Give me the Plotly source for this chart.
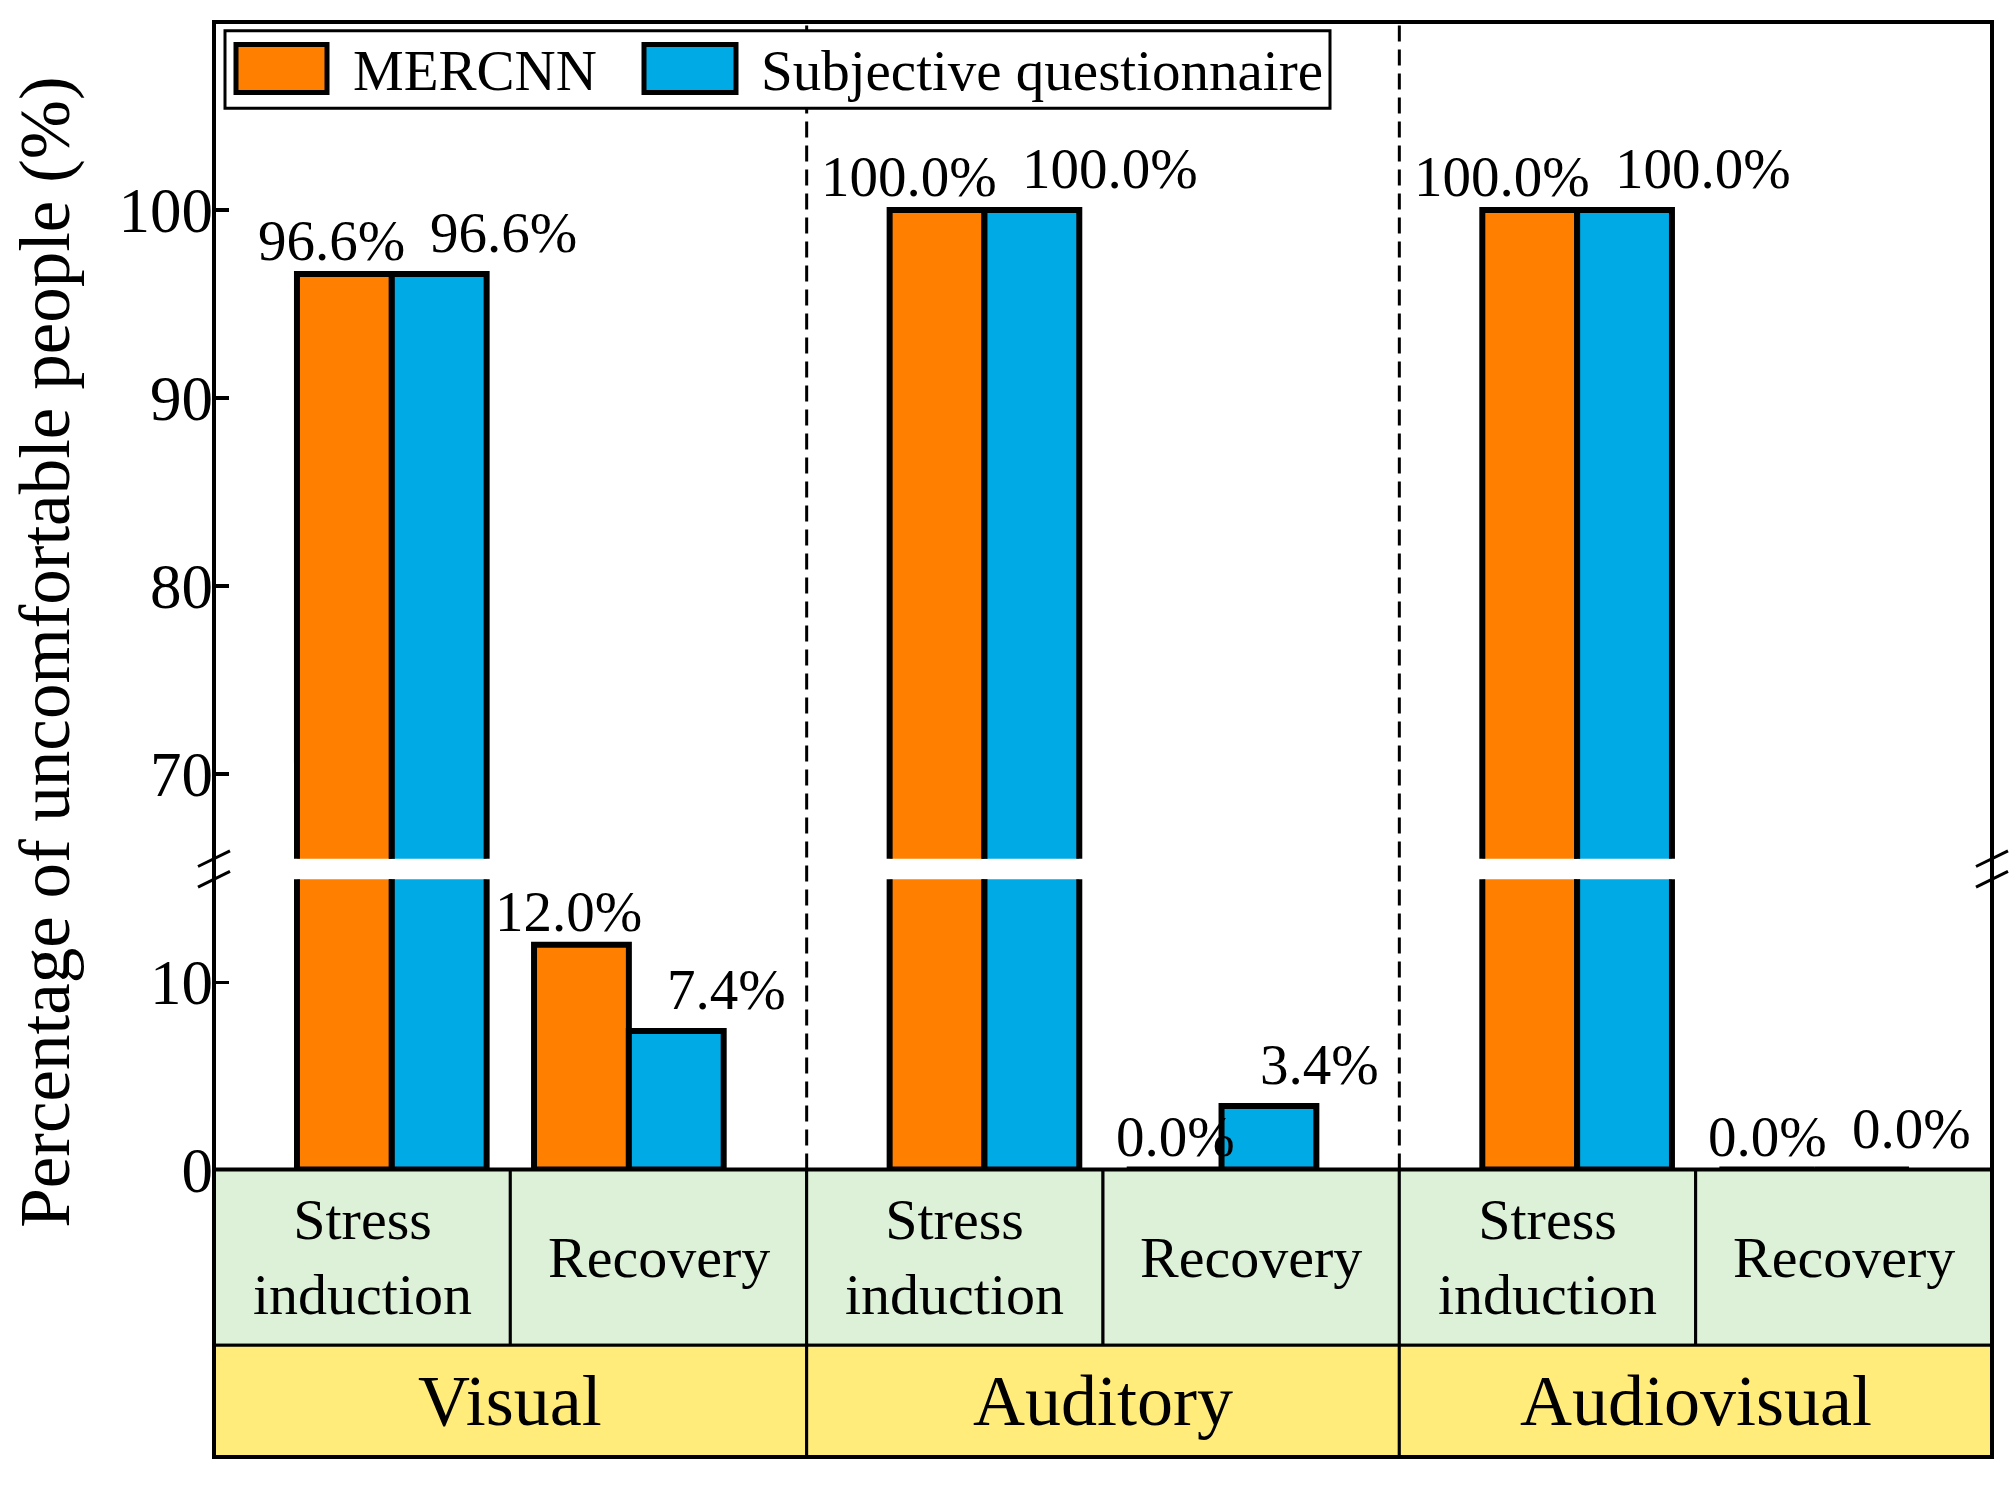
import plotly.graph_objects as go

# ---------------- data ----------------
groups = ["Visual", "Auditory", "Audiovisual"]
phases = ["Stress<br>induction", "Recovery"]
mercnn = [96.6, 12.0, 100.0, 0.0, 100.0, 0.0]
questionnaire = [96.6, 7.4, 100.0, 3.4, 100.0, 0.0]
series_names = ["MERCNN", "Subjective questionnaire"]
lower_ticks = [0, 10]
upper_ticks = [70, 80, 90, 100]
y_title = "Percentage of uncomfortable people (%)"

# ---------------- style ----------------
ORANGE = "#FF8000"
BLUE = "#00AAE4"
GREEN = "#DDF1D8"
YELLOW = "#FFEC7A"
FONT = "Liberation Serif"
W, H = 2014, 1505
ML, MR, MT, MB = 214, 22, 22, 20
PW, PH = W - ML - MR, H - MT - MB


def py(p):  # pixel y -> paper y
    return (H - MB - p) / PH


def px(p):  # pixel x -> paper x
    return (p - ML) / PW


LOW_RANGE = [0, 15.5]
UP_RANGE = [65.5, 110]
low_dom = [py(1192), py(896)]
up_dom = [py(875), 1.0]
table_mid = py(1371)
table_top = low_dom[0]

BAR_W = 0.32
PHASE_SHIFT = {0: 0.1, 1: -0.1}  # stress pairs sit right, recovery pairs left

n = len(groups) * len(phases)
centers = [i + PHASE_SHIFT[i % 2] for i in range(n)]

fig = go.Figure()
for yax in ["y", "y2"]:
    fig.add_trace(go.Bar(x=centers, y=mercnn, width=BAR_W, offset=-BAR_W,
                         marker=dict(color=ORANGE, line=dict(color="black", width=6)),
                         name=series_names[0], showlegend=False, yaxis=yax, xaxis="x"))
    fig.add_trace(go.Bar(x=centers, y=questionnaire, width=BAR_W, offset=0,
                         marker=dict(color=BLUE, line=dict(color="black", width=6)),
                         name=series_names[1], showlegend=False, yaxis=yax, xaxis="x"))

shapes = []
annotations = []

# dashed group separators
for g in range(1, len(groups)):
    xs = 2 * g - 0.5
    shapes.append(dict(type="line", xref="x", yref="paper", x0=xs, x1=xs,
                       y0=table_top, y1=1, line=dict(color="black", width=3, dash="16px,8px")))

# table rows
for i in range(n):
    shapes.append(dict(type="rect", xref="x", yref="paper", x0=i - 0.5, x1=i + 0.5,
                       y0=table_mid, y1=table_top, fillcolor=GREEN,
                       line=dict(color="black", width=3), layer="above"))
    annotations.append(dict(x=i, y=(table_mid + table_top) / 2, xref="x", yref="paper",
                            text=phases[i % 2], showarrow=False,
                            xanchor="center", yanchor="middle",
                            font=dict(family=FONT, size=58, color="black")))
for g, name in enumerate(groups):
    shapes.append(dict(type="rect", xref="x", yref="paper", x0=2 * g - 0.5, x1=2 * g + 1.5,
                       y0=0, y1=table_mid, fillcolor=YELLOW,
                       line=dict(color="black", width=3), layer="above"))
    annotations.append(dict(x=2 * g + 0.5, y=table_mid / 2, xref="x", yref="paper",
                            text=name, showarrow=False,
                            xanchor="center", yanchor="middle",
                            font=dict(family=FONT, size=72, color="black")))

# frame
shapes.append(dict(type="rect", xref="paper", yref="paper", x0=0, x1=1, y0=0, y1=1,
                   line=dict(color="black", width=4), layer="above"))
shapes.append(dict(type="line", xref="paper", yref="paper", x0=0, x1=1, y0=table_top,
                   y1=table_top, line=dict(color="black", width=4), layer="above"))

# axis break marks
for xp in [ML, W - MR]:
    for yb in [875, 896]:
        shapes.append(dict(type="line", xref="paper", yref="paper",
                           x0=px(xp - 16), x1=px(xp + 16), y0=py(yb + 8), y1=py(yb - 8),
                           line=dict(color="black", width=3), layer="above"))

# legend (large swatches as in the original)
shapes.append(dict(type="rect", xref="paper", yref="paper", x0=px(225), x1=px(1330),
                   y0=py(110), y1=py(31), fillcolor="white",
                   line=dict(color="black", width=3), layer="above"))
for (sx0, sx1, tx), col, nm in zip([(236, 327, 351), (644, 736, 759)], [ORANGE, BLUE], series_names):
    shapes.append(dict(type="rect", xref="paper", yref="paper", x0=px(sx0), x1=px(sx1),
                       y0=py(94), y1=py(45), fillcolor=col,
                       line=dict(color="black", width=5), layer="above"))
    annotations.append(dict(x=px(tx), y=py(71), xref="paper", yref="paper", text=nm,
                            xanchor="left", yanchor="middle", showarrow=False,
                            font=dict(family=FONT, size=57, color="black")))

# value labels
for i in range(n):
    for vals, anchor, xs, ys in [(mercnn, "right", 15, 0), (questionnaire, "left", 36, 8)]:
        v = vals[i]
        yref = "y2" if v > LOW_RANGE[1] else "y"
        annotations.append(dict(x=centers[i], y=v, xref="x", yref=yref, text=f"{v:.1f}%",
                                xanchor=anchor, yanchor="bottom", xshift=xs, yshift=ys,
                                showarrow=False,
                                font=dict(family=FONT, size=57, color="black")))

# y-axis title
annotations.append(dict(x=0, y=py(665), xref="paper", yref="paper", text=y_title,
                        textangle=-90, xanchor="center", yanchor="middle", xshift=46 - ML,
                        showarrow=False, font=dict(family=FONT, size=71, color="black")))

axis_common = dict(showgrid=False, zeroline=False, showline=False, ticks="inside",
                   ticklen=15, tickwidth=3.5, tickcolor="black",
                   tickfont=dict(family=FONT, size=63, color="black"))

fig.update_layout(
    width=W, height=H,
    margin=dict(l=ML, r=MR, t=MT, b=MB),
    paper_bgcolor="white", plot_bgcolor="white",
    barmode="overlay", showlegend=False, hovermode=False,
    xaxis=dict(range=[-0.5, n - 0.5], showticklabels=False, showgrid=False,
               zeroline=False, showline=False, ticks="", domain=[0, 1], fixedrange=True),
    yaxis=dict(domain=low_dom, range=LOW_RANGE, tickvals=lower_ticks, fixedrange=True,
               **axis_common),
    yaxis2=dict(domain=up_dom, range=UP_RANGE, tickvals=upper_ticks, anchor="x",
                fixedrange=True, **axis_common),
    shapes=shapes, annotations=annotations,
    font=dict(family=FONT, color="black"),
)

fig.write_html(
    "out.html",
    config={"displayModeBar": False, "staticPlot": True},
    post_script="document.body.style.margin='0';document.body.style.overflow='hidden';",
)
